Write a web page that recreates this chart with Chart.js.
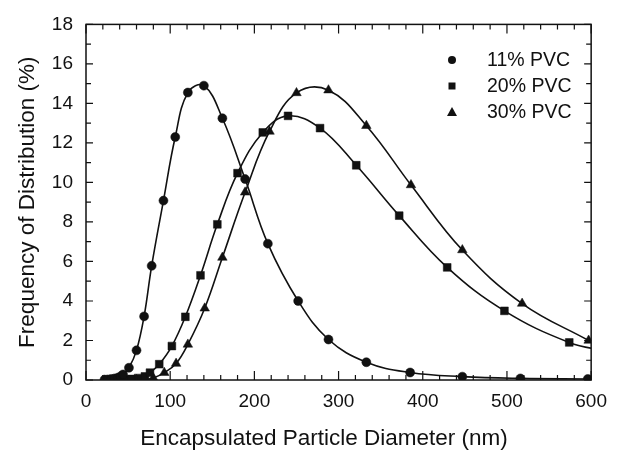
<!DOCTYPE html>
<html>
<head>
<meta charset="utf-8">
<script src="https://cdn.jsdelivr.net/npm/chart.js@4.4.1/dist/chart.umd.min.js"></script>
<style>
  html, body { margin: 0; padding: 0; background: #fff; }
  #wrap { width: 617px; height: 454px; }
</style>
</head>
<body>
<div id="wrap"><canvas id="lineChart" width="617" height="454"></canvas></div>
<script>
// values
var labels = ['11% PVC', '20% PVC', '30% PVC'];

var x11 = [22, 26, 30, 34, 38, 41, 44, 51, 60, 69, 78, 92, 106, 121, 140, 162, 189, 216, 252, 288, 333, 385, 447, 516, 596];
var y11 = [0.02, 0.03, 0.05, 0.08, 0.12, 0.18, 0.28, 0.62, 1.5, 3.22, 5.78, 9.08, 12.3, 14.55, 14.9, 13.25, 10.17, 6.9, 4.0, 2.05, 0.9, 0.38, 0.17, 0.08, 0.05];

var x20 = [30, 38, 46, 54, 62, 70, 76, 87, 102, 118, 136, 156, 180, 210, 240, 278, 321, 372, 429, 497, 574, 620];
var y20 = [0.01, 0.02, 0.03, 0.05, 0.1, 0.18, 0.37, 0.8, 1.72, 3.2, 5.3, 7.88, 10.47, 12.53, 13.37, 12.75, 10.87, 8.32, 5.7, 3.5, 1.9, 1.45];

var x30 = [60, 70, 80, 93, 107, 121, 141, 162, 189, 218, 250, 288, 333, 386, 447, 518, 597];
var y30 = [0.01, 0.03, 0.1, 0.37, 0.83, 1.8, 3.63, 6.2, 9.5, 12.58, 14.53, 14.67, 12.87, 9.87, 6.58, 3.87, 2.0];

var xTicks = [0, 100, 200, 300, 400, 500, 600];
var yTicks = [0, 2, 4, 6, 8, 10, 12, 14, 16, 18];
var xTitle = 'Encapsulated Particle Diameter (nm)';

function toPoints(xs, ys) {
  return xs.map(function(x, i) { return { x: x, y: ys[i] } });
}

var fontFamily = 'Arial, "Liberation Sans", Helvetica, sans-serif';

// inward ticks on all four sides plus the frame
var framePlugin = {
  id: 'frame',
  afterDatasetsDraw: function(chart) {
    var ctx = chart.ctx, a = chart.chartArea;
    var xs = chart.scales.x, ys = chart.scales.y;
    ctx.save();
    ctx.strokeStyle = '#111';
    ctx.lineWidth = 1.5;
    ctx.strokeRect(a.left, a.top, a.right - a.left, a.bottom - a.top);
    ctx.lineWidth = 1.2;
    ctx.beginPath();
    for (var v = 0; v <= 600; v += 20) {
      var px = xs.getPixelForValue(v);
      var len = (v % 100 === 0) ? 9 : 5;
      ctx.moveTo(px, a.bottom); ctx.lineTo(px, a.bottom - len);
      ctx.moveTo(px, a.top); ctx.lineTo(px, a.top + len);
    }
    for (var w = 0; w <= 18; w += 1) {
      var py = ys.getPixelForValue(w);
      var l2 = (w % 2 === 0) ? 7 : 5;
      ctx.moveTo(a.left, py); ctx.lineTo(a.left + l2, py);
      ctx.moveTo(a.right, py); ctx.lineTo(a.right - l2, py);
    }
    ctx.stroke();
    ctx.restore();
  }
};

// legend inside the plot, top right, and the x title (sits a bit left of centre)
var legendPlugin = {
  id: 'innerLegend',
  afterDraw: function(chart) {
    var ctx = chart.ctx;
    var rows = [60, 86, 112];
    ctx.save();
    ctx.fillStyle = '#111';
    ctx.font = '19.5px ' + fontFamily;
    ctx.textBaseline = 'middle';
    chart.data.datasets.forEach(function(ds, i) {
      var cx = 452, cy = rows[i];
      ctx.beginPath();
      if (ds.pointStyle === 'circle') {
        ctx.arc(cx, cy, 4, 0, Math.PI * 2);
      } else if (ds.pointStyle === 'rect') {
        ctx.rect(cx - 3.5, cy - 3.5, 7, 7);
      } else {
        ctx.moveTo(cx, cy - 5); ctx.lineTo(cx + 5, cy + 4); ctx.lineTo(cx - 5, cy + 4); ctx.closePath();
      }
      ctx.fill();
      ctx.fillText(ds.label, 487, cy + 1);
    });
    ctx.font = '22.5px ' + fontFamily;
    ctx.textAlign = 'center';
    ctx.fillText(xTitle, 324, 439);
    ctx.restore();
  }
};

function makeSet(label, xs, ys, style, radius) {
  return {
    label: label,
    data: toPoints(xs, ys),
    showLine: true,
    borderColor: '#111',
    backgroundColor: '#111',
    borderWidth: 1.6,
    tension: 0.4,
    pointStyle: style,
    pointRadius: radius,
    pointBorderWidth: 0.5,
    pointBackgroundColor: '#111',
    pointBorderColor: '#111'
  };
}

var ctx = document.getElementById('lineChart');
var lineChart = new Chart(ctx, {
  type: 'scatter',
  data: {
    datasets: [
      makeSet(labels[0], x11, y11, 'circle', 4.5),
      makeSet(labels[1], x20, y20, 'rect', 5.5),
      makeSet(labels[2], x30, y30, 'triangle', 5.5)
    ]
  },
  options: {
    responsive: false,
    animation: false,
    layout: { padding: { top: 20, right: 21, left: 0, bottom: 0 } },
    plugins: { legend: { display: false }, tooltip: { enabled: false } },
    scales: {
      x: {
        type: 'linear',
        min: 0, max: 600,
        afterBuildTicks: function(s) { s.ticks = xTicks.map(function(v) { return { value: v } }) },
        afterFit: function(s) { s.height = 74 },
        grid: { display: false, drawTicks: false },
        border: { display: false },
        ticks: { color: '#111', padding: 10, maxRotation: 0, font: { family: fontFamily, size: 19 } },
        title: { display: false }
      },
      y: {
        min: 0, max: 18,
        afterBuildTicks: function(s) { s.ticks = yTicks.map(function(v) { return { value: v } }) },
        afterFit: function(s) { s.width = 86 },
        grid: { display: false, drawTicks: false },
        border: { display: false },
        ticks: { color: '#111', padding: 13, font: { family: fontFamily, size: 19 } },
        title: {
          display: true, text: 'Frequency of Distribution (%)', color: '#111',
          font: { family: fontFamily, size: 22.5 }, padding: { top: 14, bottom: 0 }
        }
      }
    }
  },
  plugins: [framePlugin, legendPlugin]
});
</script>
</body>
</html>
